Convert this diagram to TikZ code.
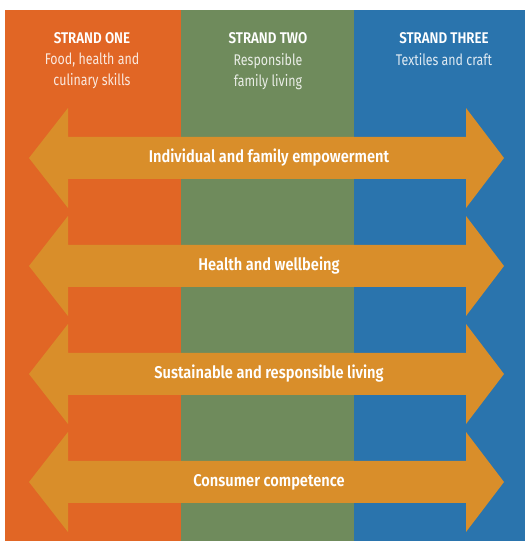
\documentclass[tikz,border=0pt]{standalone}
\usepackage{fontspec}
\setmainfont{Fira Sans}[FakeStretch=0.8]
\newfontfamily\boldcond{Fira Sans SemiBold}[FakeStretch=0.86]
\definecolor{cOrange}{HTML}{E16625}
\definecolor{cGreen}{HTML}{6F8B5C}
\definecolor{cBlue}{HTML}{2A74AD}
\definecolor{cArrow}{HTML}{D98E2A}
\begin{document}
\begin{tikzpicture}[x=1pt,y=1pt,
  arrowshape/.style={fill=cArrow},
  arrowlabel/.style={text=white,font=\boldcond\fontsize{17}{20}\selectfont,inner sep=0pt},
  strandtitle/.style={text=white,font=\boldcond\fontsize{15.5}{18}\selectfont,inner sep=0pt},
  strandsub/.style={text=white,text opacity=0.85,font=\fontsize{15.5}{21}\selectfont,align=center,inner sep=0pt}]
\useasboundingbox (0,0) rectangle (525,541);
\fill[white] (0,0) rectangle (525,541);
% columns
\fill[cOrange] (5,0) rectangle (181,531);
\fill[cGreen] (181,0) rectangle (354,531);
\fill[cBlue] (354,0) rectangle (525,531);
% headers
\node[strandtitle] (t1) at (92,503) {STRAND ONE};
\node[strandtitle] (t2) at (268,503) {STRAND TWO};
\node[strandtitle] (t3) at (444,503) {STRAND THREE};
\node[strandsub,anchor=north] (s1) at (92,488) {Food, health and\\culinary skills};
\node[strandsub,anchor=north] (s2) at (268,488) {Responsible\\family living};
\node[strandsub,anchor=north] (s3) at (444,488) {Textiles and craft};
% arrows
\foreach \c/\lab/\nm in {383/Individual and family empowerment/a1,
                         275/Health and wellbeing/a2,
                         167/Sustainable and responsible living/a3,
                         59/Consumer competence/a4}{
  \fill[arrowshape] (29,\c) -- (68,\c+50) -- (68,\c+21) -- (466,\c+21) -- (466,\c+50)
     -- (504,\c) -- (466,\c-50) -- (466,\c-21) -- (68,\c-21) -- (68,\c-50) -- cycle;
  \node[arrowlabel] (\nm) at (269,\c) {\lab};
}
\end{tikzpicture}
\end{document}
